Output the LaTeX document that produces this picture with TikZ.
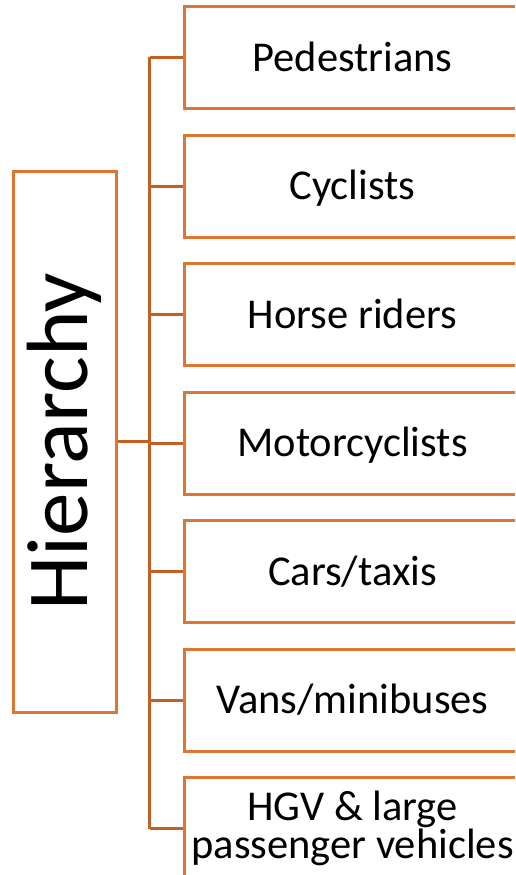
\documentclass[tikz,border=0pt]{standalone}
\usepackage{fontspec}
\setmainfont{Carlito}
\usetikzlibrary{positioning}
\definecolor{boxorange}{RGB}{222,118,50}
\definecolor{linkorange}{RGB}{196,96,36}

\begin{document}
\begin{tikzpicture}[x=1pt, y=-1pt,
    catbox/.style={draw=boxorange, line width=3pt, minimum width=336pt, minimum height=102pt, anchor=north west, inner sep=0pt, font=\fontsize{42.5}{30}\selectfont},
    link/.style={draw=linkorange, line width=3pt}]
    \clip (0,0) rectangle (515,875);
    \node[draw=boxorange, line width=3pt, minimum width=541.5pt, minimum height=102.5pt, inner sep=0pt, rotate=90, font=\fontsize{87}{87}\selectfont] (H) at (64.75,441.75) {Hierarchy};
    \foreach \lbl [count=\i] in {Pedestrians, Cyclists, Horse riders, Motorcyclists, Cars/taxis, Vans/minibuses} {
        \node[catbox, text height=27pt, text depth=0pt] (N\i) at (183, {5+128.5*(\i-1)}) {\lbl};
    }
    \node[catbox, align=center] (N7) at (183,776) {HGV \& large\\passenger vehicles};
    \coordinate (T) at (149.5,441.75);
    \draw[link] (H.south) -- (T);
    \draw[link] (T |- N1.west) -- (T |- N7.west);
    \foreach \i in {1,...,7} {
        \draw[link] (T |- N\i.west) -- (N\i.west);
    }
\end{tikzpicture}
\end{document}
